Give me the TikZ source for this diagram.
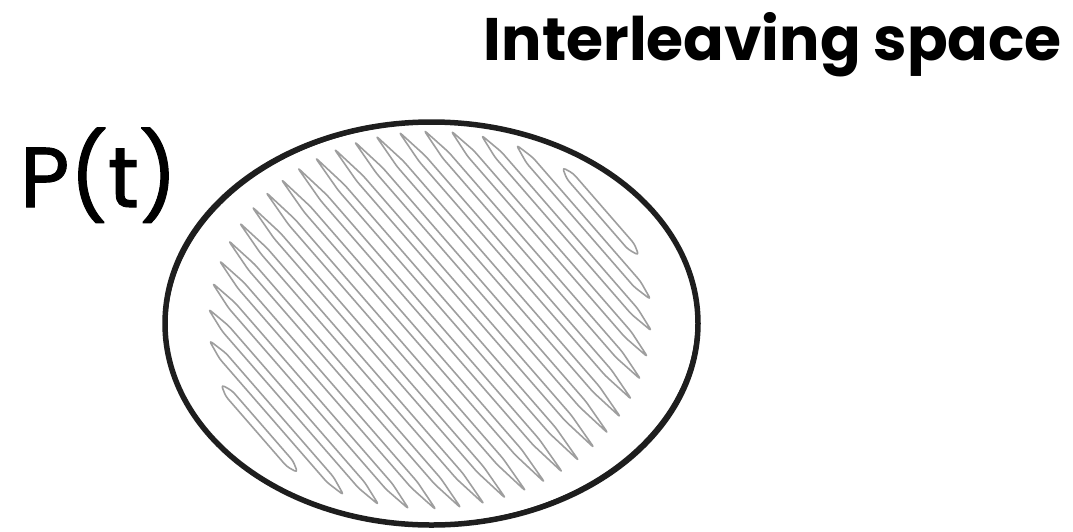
\documentclass[tikz,border=0pt]{standalone}
\usepackage{fontspec}
\setmainfont{Poppins}
\newfontfamily\ptfont{Poppins}[FakeBold=1.2]
\usetikzlibrary{shapes.geometric}
\definecolor{ink}{HTML}{1E1E1E}
\definecolor{hatch}{HTML}{9E9E9E}
\tikzset{
  outline/.style={draw=ink, line width=5.5pt},
  outlinethin/.style={draw=ink, line width=1.6pt},
  loopstroke/.style={draw=hatch, line width=1.6pt, rounded corners=3.5pt, line join=round},
  titletext/.style={inner sep=0pt, font=\fontsize{60}{66}\selectfont\bfseries},
  labeltext/.style={inner sep=0pt, font=\fontsize{85}{95}\selectfont\ptfont},
}
\begin{document}
\begin{tikzpicture}[x=1pt,y=-1pt]
\useasboundingbox (0,0) rectangle (1073,531);
% hachure (zig-zag loops) inside an inner ellipse; units of 100 px for math
\pgfmathsetmacro\cx{4.30}
\pgfmathsetmacro\cy{3.20}
\pgfmathsetmacro\ea{2.22}
\pgfmathsetmacro\eb{1.90}
\pgfmathsetmacro\ux{cos(49)}
\pgfmathsetmacro\uy{sin(49)}
\pgfmathsetmacro\nx{sin(49)}
\pgfmathsetmacro\ny{-cos(49)}
\pgfmathsetmacro\qA{(\ux/\ea)^2+(\uy/\eb)^2}
\pgfmathsetmacro\qK{\nx*\ux/(\ea*\ea)+\ny*\uy/(\eb*\eb)}
\pgfmathsetmacro\qL{(\nx/\ea)^2+(\ny/\eb)^2}
\foreach \k in {0,...,20}{
  \pgfmathsetmacro\s{(\k-10)*0.2}
  \pgfmathsetmacro\qB{2*\s*\qK}
  \pgfmathsetmacro\qC{\s*\s*\qL-1}
  \pgfmathsetmacro\qD{sqrt(max(\qB*\qB-4*\qA*\qC,0))}
  \pgfmathsetmacro\tA{(-\qB-\qD)/(2*\qA)}
  \pgfmathsetmacro\tB{(-\qB+\qD)/(2*\qA)}
  \pgfmathsetmacro\tC{\tA+0.10*(\tB-\tA)}
  \pgfmathsetmacro\tE{\tA+0.90*(\tB-\tA)}
  \pgfmathsetmacro\sa{\s-0.042}
  \pgfmathsetmacro\sb{\s+0.042}
  \coordinate (h0) at ({100*(\cx+\s*\nx+\tA*\ux)},{100*(\cy+\s*\ny+\tA*\uy)});
  \coordinate (h1) at ({100*(\cx+\sa*\nx+\tC*\ux)},{100*(\cy+\sa*\ny+\tC*\uy)});
  \coordinate (h2) at ({100*(\cx+\sa*\nx+\tE*\ux)},{100*(\cy+\sa*\ny+\tE*\uy)});
  \coordinate (h3) at ({100*(\cx+\s*\nx+\tB*\ux)},{100*(\cy+\s*\ny+\tB*\uy)});
  \coordinate (h4) at ({100*(\cx+\sb*\nx+\tE*\ux)},{100*(\cy+\sb*\ny+\tE*\uy)});
  \coordinate (h5) at ({100*(\cx+\sb*\nx+\tC*\ux)},{100*(\cy+\sb*\ny+\tC*\uy)});
  \draw[loopstroke] (h0) -- (h1) -- (h2) -- (h3) -- (h4) -- (h5) -- cycle;
}
% outline
\node[ellipse, outline, minimum width=533pt, minimum height=403pt, inner sep=0pt] (blob) at (431.5,323.5) {};
\draw[outlinethin] (blob.center) ellipse [x radius=265pt, y radius=200.5pt, rotate=1.2];
% texts
\node[titletext, anchor=base east] (title) at (1062,60) {Interleaving space};
\node[labeltext, anchor=base west] (ptlabel) at (20,207) {P(t)};
\end{tikzpicture}
\end{document}
